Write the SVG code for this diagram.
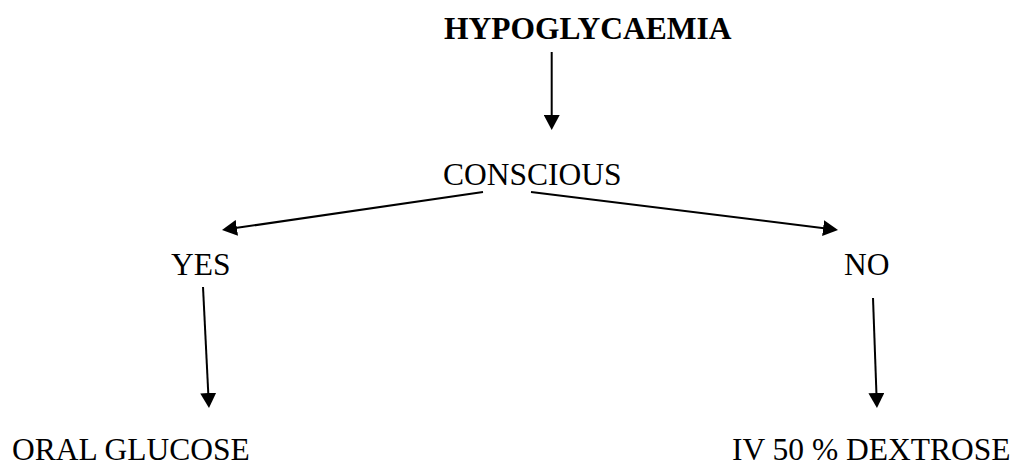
<svg xmlns="http://www.w3.org/2000/svg" width="1019" height="464" viewBox="0 0 1019 464">
<style>
text{font-family:"Liberation Serif","Times New Roman",serif;font-size:31.5px;fill:#000}
.b{font-weight:bold}
.c line{stroke:#000;stroke-width:2;fill:none;marker-end:url(#ah)}
</style>
<defs>
<marker id="ah" markerUnits="userSpaceOnUse" viewBox="0 0 15 16" markerWidth="15" markerHeight="16" refX="5" refY="8" orient="auto">
<path d="M0,0 L15,8 L0,16 Z" fill="#000"/>
</marker>
</defs>
<rect width="1019" height="464" fill="#fff"/>
<g id="n-hypo"><text class="b" x="444" y="39">HYPOGLYCAEMIA</text></g>
<g id="n-conscious"><text x="443" y="184.5">CONSCIOUS</text></g>
<g id="n-yes"><text x="171" y="275">YES</text></g>
<g id="n-no"><text x="844" y="275">NO</text></g>
<g id="n-oral"><text x="12" y="460">ORAL GLUCOSE</text></g>
<g id="n-iv"><text x="732" y="460">IV 50 % DEXTROSE</text></g>
<g class="c" id="connectors">
<line x1="551.7" y1="52" x2="551.7" y2="120"/>
<line x1="483" y1="192" x2="231.9" y2="228.6"/>
<line x1="531" y1="192" x2="828.1" y2="228.8"/>
<line x1="203" y1="287" x2="208.5" y2="398"/>
<line x1="873" y1="298" x2="876.6" y2="398"/>
</g>
</svg>
